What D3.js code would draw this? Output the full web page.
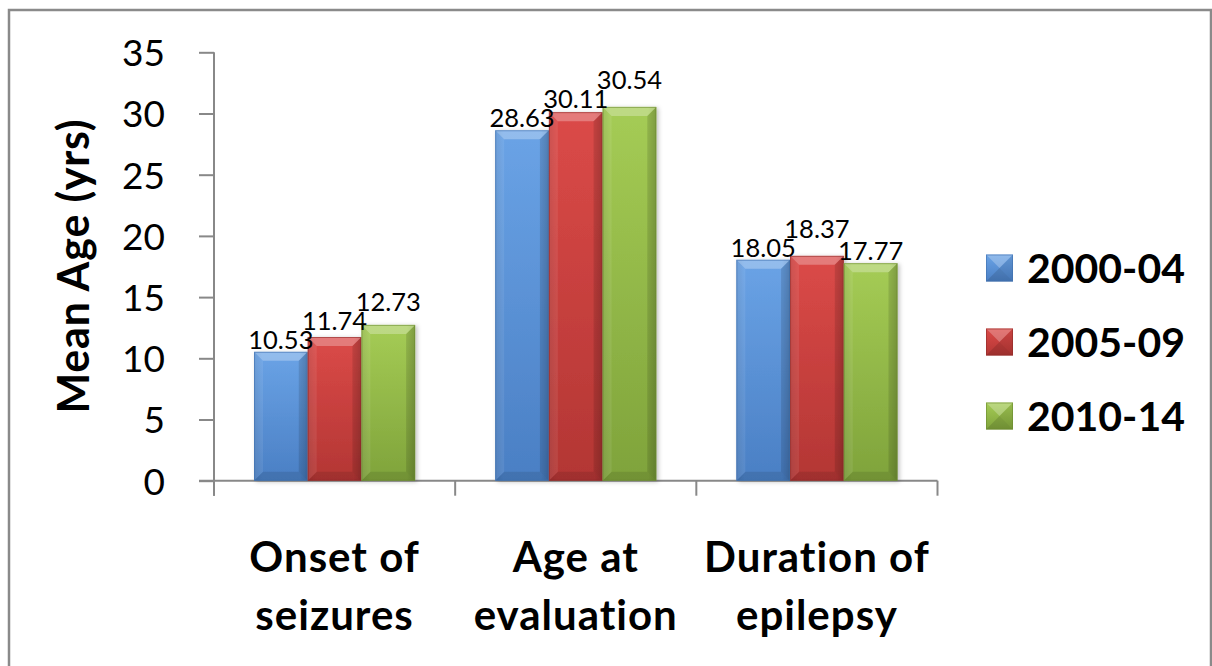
<!DOCTYPE html>
<html>
<head>
<meta charset="utf-8">
<script src="https://cdn.jsdelivr.net/npm/d3@7"></script>
<style>
  html, body { margin: 0; padding: 0; background: #fff; }
  svg { display: block; }
  text { font-family: Lato, "Open Sans", "DejaVu Sans", sans-serif; fill: #000; }
</style>
</head>
<body>
<svg id="chart" width="1212" height="666"></svg>
<script>
// Mean age figures for three periods, per measure
const categories = ["Onset of\nseizures", "Age at\nevaluation", "Duration of\nepilepsy"];
const seriesNames = ["2000-04", "2005-09", "2010-14"];
const onsetValues = [10.53, 11.74, 12.73];
const evaluationValues = [28.63, 30.11, 30.54];
const durationValues = [18.05, 18.37, 17.77];
const yTicks = [0, 5, 10, 15, 20, 25, 30, 35];
const yTitle = "Mean Age (yrs)";

const valuesByCategory = [onsetValues, evaluationValues, durationValues];

const svg = d3.select("#chart");

// chart frame
svg.append("rect")
  .attr("x", 9).attr("y", 10)
  .attr("width", 1202).attr("height", 680)
  .attr("fill", "#fff")
  .attr("stroke", "#8a8a8a").attr("stroke-width", 2.5);

const plot = { left: 214, right: 937.5, top: 52.3, bottom: 480.7 };

const x = d3.scaleBand()
  .domain(d3.range(categories.length))
  .range([plot.left, plot.right])
  .paddingInner(0).paddingOuter(0);

const xs = d3.scaleBand()
  .domain(d3.range(seriesNames.length))
  .range([0, x.bandwidth()])
  .paddingInner(0).paddingOuter(0.745);

const y = d3.scaleLinear().domain([0, 35]).range([plot.bottom, plot.top]);

// series colours: light top, dark bottom, outline
const palette = [
  { light: "#6aa3e6", dark: "#4a7fc4", edge: "#3f6fae" },
  { light: "#db4a48", dark: "#b33634", edge: "#8f2b29" },
  { light: "#a5cc55", dark: "#7fa33b", edge: "#6a8a30" }
];

const defs = svg.append("defs");
palette.forEach((c, i) => {
  const g = defs.append("linearGradient")
    .attr("id", "barGrad" + i)
    .attr("x1", 0).attr("y1", 0).attr("x2", 0).attr("y2", 1);
  g.append("stop").attr("offset", "0%").attr("stop-color", c.light);
  g.append("stop").attr("offset", "100%").attr("stop-color", c.dark);
  const h = defs.append("linearGradient")
    .attr("id", "sideGrad" + i)
    .attr("x1", 0).attr("y1", 0).attr("x2", 1).attr("y2", 0);
  h.append("stop").attr("offset", "0%").attr("stop-color", "#000").attr("stop-opacity", 0.08);
  h.append("stop").attr("offset", "15%").attr("stop-color", "#000").attr("stop-opacity", 0);
  h.append("stop").attr("offset", "85%").attr("stop-color", "#000").attr("stop-opacity", 0);
  h.append("stop").attr("offset", "100%").attr("stop-color", "#000").attr("stop-opacity", 0.12);
});
const shadow = defs.append("filter").attr("id", "barShadow")
  .attr("x", "-20%").attr("y", "-10%").attr("width", "140%").attr("height", "120%");
shadow.append("feDropShadow")
  .attr("dx", 2).attr("dy", 1).attr("stdDeviation", 2)
  .attr("flood-color", "#000").attr("flood-opacity", 0.25);

// value axis
const yAxis = d3.axisLeft(y).tickValues(yTicks).tickSize(15).tickPadding(34).tickFormat(d3.format("d"));
const yG = svg.append("g").attr("transform", `translate(${plot.left},0)`).call(yAxis);
yG.select(".domain").attr("d", `M0,${plot.top}V${plot.bottom + 15}`);
yG.selectAll("line").attr("stroke", "#888").attr("stroke-width", 2);
yG.selectAll(".domain").attr("stroke", "#888").attr("stroke-width", 2);
yG.selectAll("text").attr("font-size", 37).attr("dy", "0.36em").style("font-family", "Lato");

// category axis with boundary ticks
const boundaries = d3.range(categories.length + 1).map(i => plot.left + i * x.step());
const xG = svg.append("g");
xG.append("line")
  .attr("x1", plot.left - 15).attr("x2", plot.right)
  .attr("y1", plot.bottom).attr("y2", plot.bottom)
  .attr("stroke", "#888").attr("stroke-width", 2);
xG.selectAll("line.tick").data(boundaries).enter().append("line")
  .attr("class", "tick")
  .attr("x1", d => d).attr("x2", d => d)
  .attr("y1", plot.bottom).attr("y2", plot.bottom + 15)
  .attr("stroke", "#888").attr("stroke-width", 2);

// bevelled bars
const bevel = 9;
const barLayer = svg.append("g");
const labelLayer = svg.append("g");
const groups = barLayer.selectAll("g.cat")
  .data(valuesByCategory).enter().append("g")
  .attr("class", "cat")
  .attr("transform", (d, i) => `translate(${x(i)},0)`);

const labelHeight = 19;
groups.each(function(vals, ci) {
  const g = d3.select(this);
  let prev = null;
  vals.forEach((v, j) => {
    const x0 = xs(j), w = xs.bandwidth();
    const y0 = y(v), h = y(0) - y(v);
    const c = palette[j];
    const bar = g.append("g");
    bar.append("rect").attr("x", x0).attr("y", y0).attr("width", w).attr("height", h)
      .attr("fill", `url(#barGrad${j})`).attr("filter", "url(#barShadow)");
    bar.append("rect").attr("x", x0).attr("y", y0).attr("width", w).attr("height", h)
      .attr("fill", `url(#sideGrad${j})`);
    bar.append("path")
      .attr("d", `M${x0},${y0}H${x0 + w}L${x0 + w - bevel},${y0 + bevel}H${x0 + bevel}Z`)
      .attr("fill", "#fff").attr("fill-opacity", 0.28);
    bar.append("path")
      .attr("d", `M${x0},${y0 + h}H${x0 + w}L${x0 + w - bevel},${y0 + h - bevel}H${x0 + bevel}Z`)
      .attr("fill", "#000").attr("fill-opacity", 0.1);
    bar.append("path")
      .attr("d", `M${x0},${y0}L${x0 + bevel},${y0 + bevel}V${y0 + h - bevel}L${x0},${y0 + h}Z`)
      .attr("fill", "#fff").attr("fill-opacity", 0.08);
    bar.append("path")
      .attr("d", `M${x0 + w},${y0}L${x0 + w - bevel},${y0 + bevel}V${y0 + h - bevel}L${x0 + w},${y0 + h}Z`)
      .attr("fill", "#000").attr("fill-opacity", 0.12);
    bar.append("rect").attr("x", x0 + 0.5).attr("y", y0 + 0.5).attr("width", w - 1).attr("height", h - 1)
      .attr("fill", "none").attr("stroke", c.edge).attr("stroke-opacity", 0.6).attr("stroke-width", 1);

    // value label, lifted only when it would collide with its neighbour
    const cx = x(ci) + x0 + w / 2;
    let base = y0 - 3;
    const t = labelLayer.append("text")
      .attr("x", cx).attr("text-anchor", "middle")
      .attr("font-size", 25.5)
      .text(d3.format(".2f")(v));
    const tw = t.node().getComputedTextLength();
    if (prev && Math.abs(cx - prev.cx) < (tw + prev.w) / 2 - 2 &&
        Math.abs(base - prev.base) < labelHeight) {
      base = prev.base - labelHeight;
    }
    t.attr("y", base);
    prev = { cx, w: tw, base };
  });
});

// category labels
categories.forEach((label, i) => {
  const cx = x(i) + x.bandwidth() / 2;
  const t = svg.append("text")
    .attr("x", cx).attr("y", 572)
    .attr("text-anchor", "middle")
    .attr("font-size", 42).attr("font-weight", "bold")
    .attr("letter-spacing", 1);
  label.split("\n").forEach((line, k) => {
    t.append("tspan").attr("x", cx).attr("dy", k === 0 ? 0 : 58).text(line);
  });
});

// value axis title
svg.append("text")
  .attr("transform", "translate(89,266) rotate(-90)")
  .attr("text-anchor", "middle")
  .attr("font-size", 43).attr("font-weight", "bold")
  .attr("letter-spacing", 0.8)
  .text(yTitle);

// legend
const legend = svg.append("g").attr("transform", "translate(986,268)");
seriesNames.forEach((name, i) => {
  const row = legend.append("g").attr("transform", `translate(0,${i * 74})`);
  const s = 27, c = palette[i], b = s / 2;
  row.append("rect").attr("x", 0).attr("y", -s / 2).attr("width", s).attr("height", s)
    .attr("fill", `url(#barGrad${i})`);
  row.append("path").attr("d", `M0,${-b}H${s}L${b},0Z`).attr("fill", "#fff").attr("fill-opacity", 0.25);
  row.append("path").attr("d", `M0,${b}H${s}L${b},0Z`).attr("fill", "#000").attr("fill-opacity", 0.12);
  row.append("path").attr("d", `M${s},${-b}V${b}L${b},0Z`).attr("fill", "#000").attr("fill-opacity", 0.08);
  row.append("rect").attr("x", 0.5).attr("y", -s / 2 + 0.5).attr("width", s - 1).attr("height", s - 1)
    .attr("fill", "none").attr("stroke", c.edge).attr("stroke-opacity", 0.6);
  row.append("text").attr("x", 41).attr("y", 0).attr("dy", "0.36em")
    .attr("font-size", 41).attr("font-weight", "bold").text(name);
});
</script>
</body>
</html>
